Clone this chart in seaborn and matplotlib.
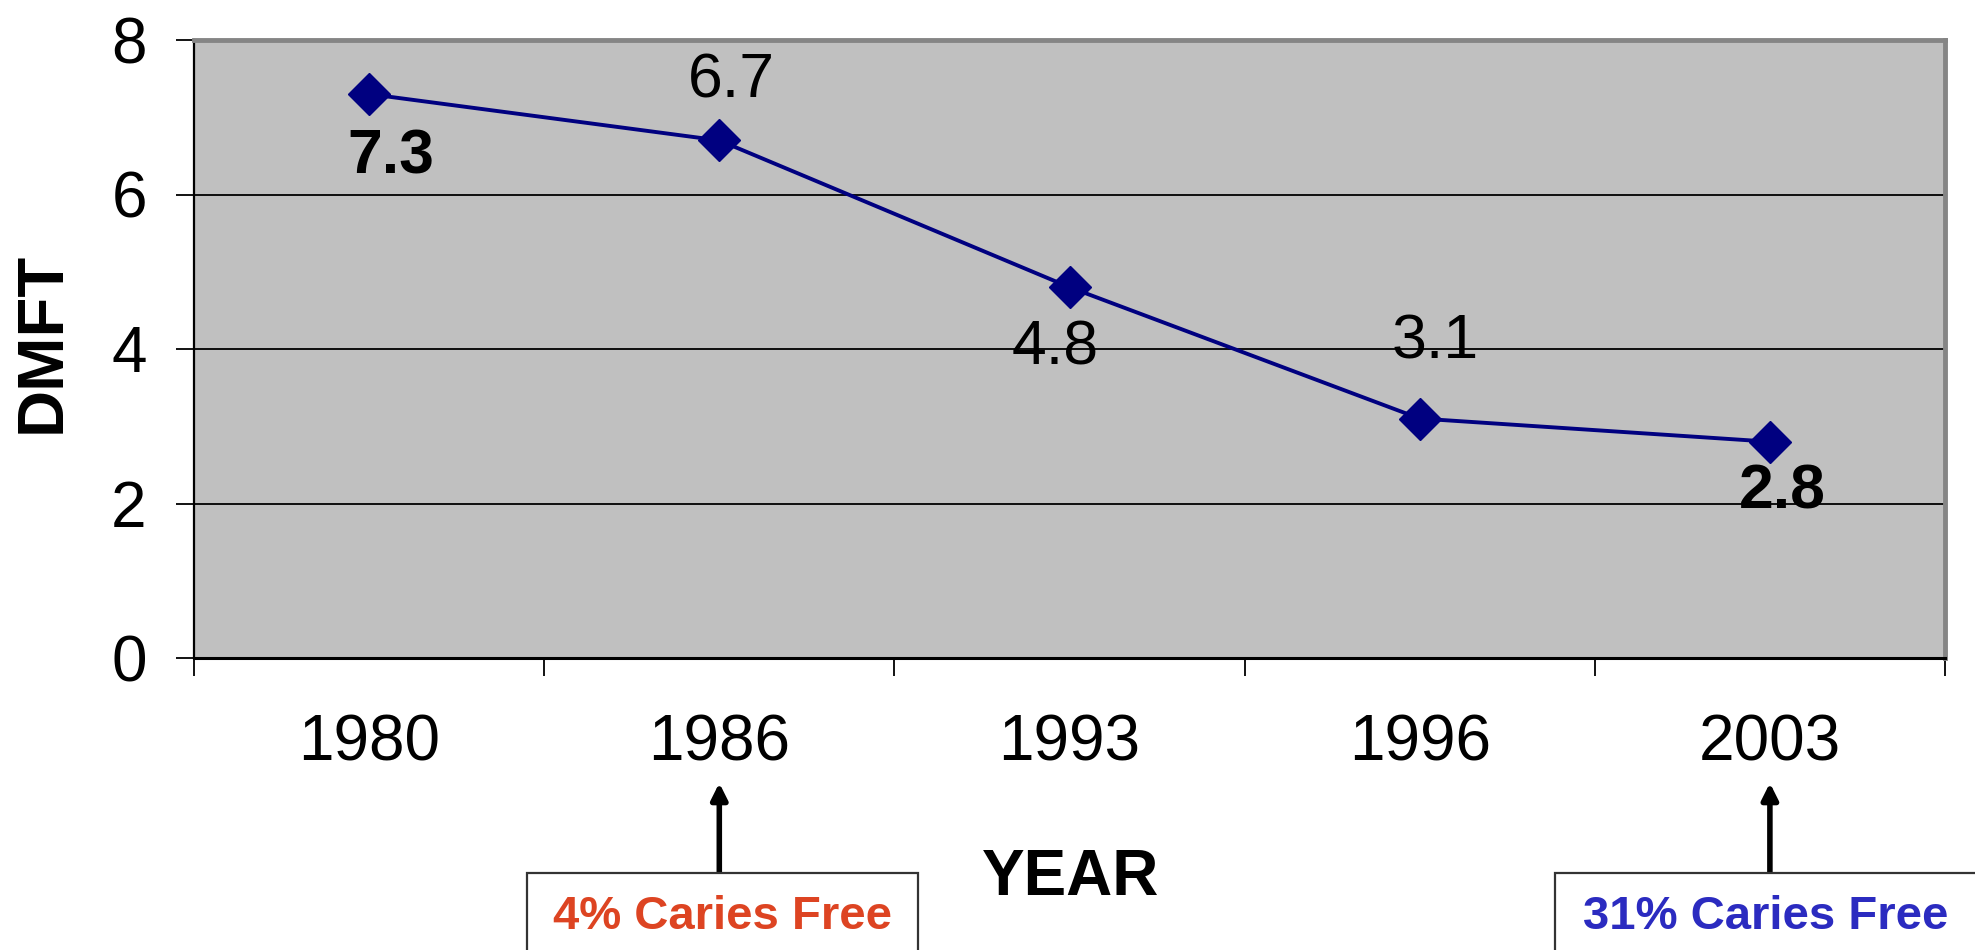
import matplotlib
matplotlib.use("Agg")
import matplotlib.pyplot as plt
from matplotlib.patches import Rectangle
import numpy as np
import seaborn as sns

# Mean DMFT (decayed, missing, filled teeth) by survey year
years = ["1980", "1986", "1993", "1996", "2003"]
dmft = [7.3, 6.7, 4.8, 3.1, 2.8]
y_ticks = [0, 2, 4, 6, 8]

# Caries-free call-outs under the year axis
callout_years = ["1986", "2003"]
callout_texts = ["4% Caries Free", "31% Caries Free"]

# Value-label styling: offset of each label from its point (pixels) and weight
label_offsets = [(22, -79), (12, 43), (-14, -77), (15, 60), (12, -67)]
label_bold = [True, False, False, False, True]

W, H = 1975, 950
sns.set_style("white")
plt.rcParams["font.family"] = ["Liberation Sans", "DejaVu Sans"]
plt.rcParams["text.color"] = "black"
plt.rcParams["xtick.color"] = "black"
plt.rcParams["ytick.color"] = "black"
plt.rcParams["xtick.labelcolor"] = "black"
plt.rcParams["ytick.labelcolor"] = "black"

fig = plt.figure(figsize=(W / 100, H / 100), dpi=100)
fig.patch.set_facecolor("white")


def fx(px):
    return px / W


def fy(py):
    return 1 - py / H


left, right, top, bottom = 194, 1945, 40, 658
ax = fig.add_axes([fx(left), fy(bottom), fx(right - left), fy(top) - fy(bottom)])
ax.set_facecolor("#C0C0C0")

navy = "#000080"
pos = np.arange(len(years))
sns.lineplot(x=pos, y=dmft, ax=ax, color=navy, linewidth=2.8,
             marker="D", markersize=21, markeredgecolor=navy,
             markeredgewidth=1, zorder=5)

ax.set_xlim(-0.5, len(years) - 0.5)
ax.set_ylim(0, 8)

# category boundaries get tick marks, category centres get the labels
ax.set_xticks(np.arange(-0.5, len(years), 1.0))
ax.set_xticklabels([])
ax.set_xticks(pos, minor=True)
ax.set_xticklabels(years, minor=True, fontsize=46, color="black")
ax.tick_params(axis="x", which="major", direction="out", length=13, width=1.3,
               color="black", bottom=True)
ax.tick_params(axis="x", which="minor", length=0, pad=40, bottom=True)

ax.set_yticks(y_ticks)
ax.set_yticklabels([str(v) for v in y_ticks], fontsize=46, color="black")
ax.tick_params(axis="y", direction="out", length=13, width=1.3, color="black",
               pad=21, left=True)

ax.yaxis.grid(True, color="black", linewidth=1.3)
ax.xaxis.grid(False)
ax.set_axisbelow(True)

for side in ["top", "right"]:
    ax.spines[side].set_color("#858585")
    ax.spines[side].set_linewidth(3.5)
ax.spines["left"].set_color("black")
ax.spines["left"].set_linewidth(1.6)
ax.spines["bottom"].set_color("black")
ax.spines["bottom"].set_linewidth(2.2)

ax.set_xlabel("")
ax.set_ylabel("")

# value labels next to each point
for x, v, off, b in zip(pos, dmft, label_offsets, label_bold):
    ax.annotate(f"{v:.1f}", xy=(x, v), xytext=off, textcoords="offset pixels",
                ha="center", va="baseline", fontsize=45,
                fontweight="bold" if b else "normal", color="black", zorder=6)

# axis titles
fig.text(fx(43), fy(342), "DMFT", rotation=90, ha="center", va="center",
         fontsize=47, fontweight="bold", color="black")
fig.text(fx(1071), fy(895), "YEAR", ha="center", va="baseline",
         fontsize=46, fontweight="bold", color="black")

# call-out boxes with arrows pointing up at the year labels
box_specs = [
    (527, 391, "#DD4422", "center"),
    (1555, 440, "#2B2BC0", "left"),
]
for yr, txt, (bx, bw, col, ha) in zip(callout_years, callout_texts, box_specs):
    idx = years.index(yr)
    xpix = ax.transData.transform((idx, 0))[0]
    box_top = 873
    fig.add_artist(Rectangle((fx(bx), fy(H + 20)), fx(bw), fy(box_top) - fy(H + 20),
                             transform=fig.transFigure, facecolor="white",
                             edgecolor="#333333", linewidth=1.6, zorder=3))
    tx = bx + bw / 2 if ha == "center" else bx + 28
    fig.text(fx(tx), fy(929), txt, ha=ha, va="baseline",
             fontsize=34, fontweight="bold", color=col, zorder=4)
    ax.annotate("", xy=(xpix, H - 783), xytext=(xpix, H - box_top),
                xycoords="figure pixels", textcoords="figure pixels",
                arrowprops=dict(arrowstyle="-|>", color="black", lw=4,
                                mutation_scale=24, shrinkA=0, shrinkB=0),
                annotation_clip=False)

fig.savefig("out.png", dpi=100, facecolor="white")
